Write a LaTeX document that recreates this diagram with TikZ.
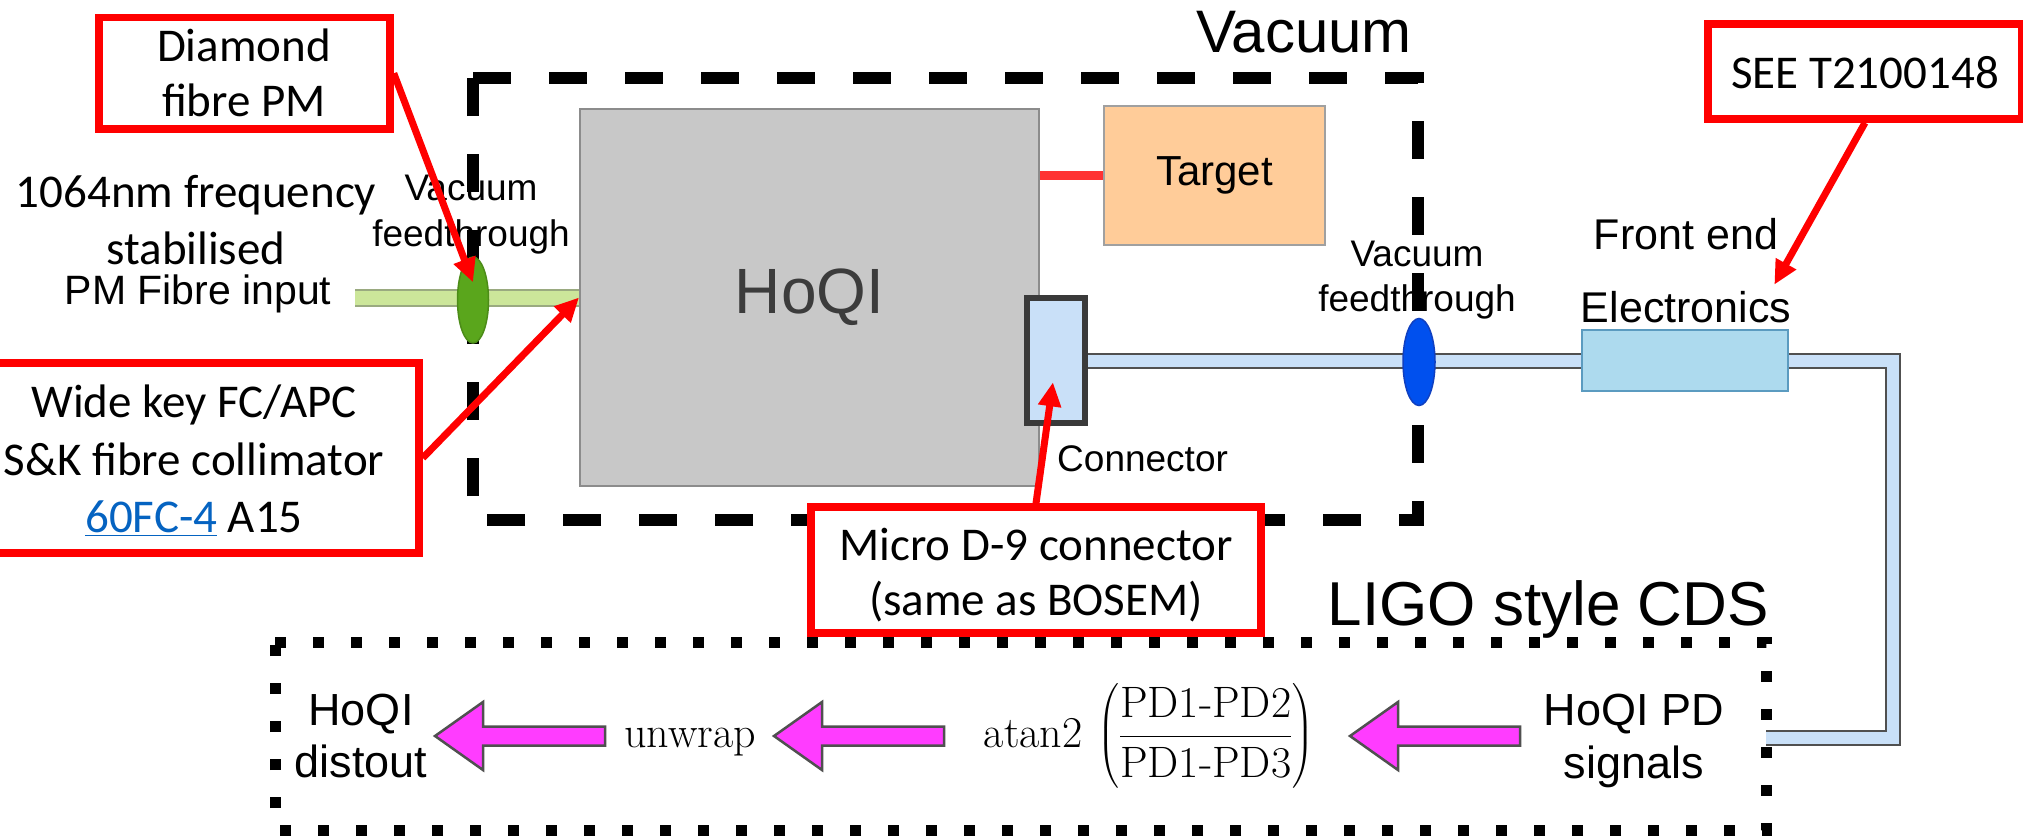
\RequirePackage{fix-cm}
\documentclass[tikz,border=0pt]{standalone}
\usepackage{amsmath}
\usepackage{fontspec}
\usetikzlibrary{arrows.meta,shapes.geometric}
\newfontfamily\calib{Carlito}
\newfontfamily\ari{Liberation Sans}
\newcommand\fsz[1]{\fontsize{#1pt}{#1pt}\selectfont}
\definecolor{annred}{HTML}{FF0000}
\definecolor{hoqigrey}{HTML}{C8C8C8}
\definecolor{hoqiedge}{HTML}{8C8C8C}
\definecolor{hoqitext}{HTML}{3C3C3C}
\definecolor{targetfill}{HTML}{FFCC99}
\definecolor{targetedge}{HTML}{A0A0A0}
\definecolor{linkred}{HTML}{FF3333}
\definecolor{cableblue}{HTML}{C9E0F8}
\definecolor{cableedge}{HTML}{505050}
\definecolor{connedge}{HTML}{3A3A3A}
\definecolor{elecfill}{HTML}{ADDAEE}
\definecolor{elecedge}{HTML}{5B9BC0}
\definecolor{greenft}{HTML}{5AA61C}
\definecolor{greenedge}{HTML}{4C8C18}
\definecolor{fibregreen}{HTML}{CCE69A}
\definecolor{fibreedge}{HTML}{9AAA80}
\definecolor{blueft}{HTML}{0050EE}
\definecolor{blueedge}{HTML}{1040C0}
\definecolor{magentafill}{HTML}{FF3CFF}
\definecolor{arrowedge}{HTML}{505050}
\definecolor{linkblue}{HTML}{0563C1}
\pgfdeclarelayer{bg}
\pgfdeclarelayer{fg}
\pgfsetlayers{bg,main,fg}
\begin{document}
\begin{tikzpicture}[x=1pt,y=-1pt,
  annot/.style={draw=annred, line width=7.5pt, fill=white, inner sep=0pt, rectangle},
  ctxt/.style={font=\calib\fsz{47}, anchor=base, inner sep=0pt},
  lbl/.style={font=\ari\fsz{#1}, anchor=base, inner sep=0pt},
  redarrow/.style={draw=annred, line width=7pt, -{Triangle[length=24pt,width=22pt]}},
  vacbox/.style={draw=black, line width=12.5pt, dash pattern=on 38pt off 38pt},
  cdsbox/.style={draw=black, line width=11pt, dash pattern=on 11pt off 27pt},
  cable/.style={draw=cableblue, line width=12pt, line join=miter, preaction={draw=cableedge, line width=16pt, line join=miter}},
  fibre/.style={draw=fibregreen, line width=14pt, preaction={draw=fibreedge, line width=18pt}},
  feedthru/.style={ellipse, line width=1.5pt, inner sep=0pt},
  blockarr/.pic={\draw[draw=arrowedge, fill=magentafill, line width=2.5pt, line join=miter]
     (0,0) -- (48,-34) -- (48,-9.5) -- (170,-9.5) -- (170,9.5) -- (48,9.5) -- (48,34) -- cycle;}
]
\useasboundingbox (0,0) rectangle (2023,838);

% main components
\node[draw=hoqiedge, fill=hoqigrey, line width=2pt, minimum width=459pt, minimum height=377pt,
      inner sep=0pt, font=\ari\fsz{64}, text=hoqitext] (hoqi) at (809.5,297.5) {HoQI};
\node[draw=targetedge, fill=targetfill, line width=2pt, minimum width=221pt, minimum height=139pt,
      inner sep=0pt, font=\ari\fsz{42}] (target) at (1214.5,175.5) {Target};
\node[draw=connedge, fill=cableblue, line width=6pt, minimum width=58pt, minimum height=125pt,
      inner sep=0pt] (conn) at (1056,360.5) {};
\node[draw=elecedge, fill=elecfill, line width=2pt, minimum width=206pt, minimum height=61pt,
      inner sep=0pt] (elec) at (1685,360.5) {};
\node[feedthru, draw=greenedge, fill=greenft, minimum width=31pt, minimum height=86pt] (gft) at (473,300) {};
\node[feedthru, draw=blueedge, fill=blueft, minimum width=32pt, minimum height=87pt] (bft) at (1419,362) {};
\coordinate (fibin) at (355,298);
\coordinate (cdsin) at (1766,738);

% labels
\node[lbl=60, anchor=base east] (tvacuum) at (1412,52) {Vacuum};
\node[ctxt] (t1064) at (196,207) {1064nm frequency};
\node[ctxt] (tstab) at (196,264) {stabilised};
\node[lbl=41] (tpm) at (198,304) {PM Fibre input};
\node[lbl=37] (tvla) at (471,200) {Vacuum};
\node[lbl=37] (tvlb) at (471,246) {feedthrough};
\node[lbl=37] (tvra) at (1417,266) {Vacuum};
\node[lbl=37] (tvrb) at (1417,311) {feedthrough};
\node[lbl=37, anchor=base west] (tconn) at (1057,471) {Connector};
\node[lbl=43] (tfront) at (1686,249) {Front end};
\node[lbl=43] (telec) at (1686,322) {Electronics};
\node[lbl=62, anchor=base east] (tcds) at (1769,625) {LIGO style CDS};
\node[lbl=45] (tpda) at (1634,725) {HoQI PD};
\node[lbl=45] (tpdb) at (1634,778) {signals};
\node[lbl=45] (touta) at (361,725) {HoQI};
\node[lbl=45] (toutb) at (361,777) {distout};
\node[anchor=base, inner sep=0pt, font=\fsz{44}] (tunwrap) at (690,747) {unwrap};
\node[anchor=base, inner sep=0pt, font=\fsz{44}] (tatan) at (1149,747)
  {$\mathrm{atan2}\,\left(\dfrac{\mbox{PD1-PD2}}{\mbox{PD1-PD3}}\right)$};

% block arrows in CDS
\pic (ba1) at (1350,736) {blockarr};
\pic (ba2) at (774,736) {blockarr};
\pic (ba3) at (435,736) {blockarr};

\begin{pgfonlayer}{bg}
  \draw[vacbox] (473,78) -- (1418,78) -- (1418,520) -- (473,520) -- cycle;
  \draw[cdsbox] (275,642) -- (1766,642) -- (1766,830) -- (275,830) -- cycle;
  \draw[cable] (conn.east) -- (elec.west);
  \draw[cable] (elec.east) -- ++(104,0) |- (cdsin);
  \draw[fibre] (fibin) -- (fibin -| hoqi.west);
  \draw[draw=linkred, line width=9pt] (hoqi.east |- target.west) -- (target.west);
\end{pgfonlayer}

\begin{pgfonlayer}{fg}
  \node[annot, minimum width=291pt, minimum height=111.5pt] (dia) at (244.5,73.3) {};
  \node[ctxt] (tdia1) at (244,61) {Diamond};
  \node[ctxt] (tdia2) at (244,116) {fibre PM};
  \node[annot, minimum width=450pt, minimum height=190pt] (wide) at (194,458) {};
  \node[ctxt] (twk1) at (194,417) {Wide key FC/APC};
  \node[ctxt] (twk2) at (194,475) {S\&K fibre collimator};
  \node[ctxt] (twk3) at (194,532) {{\color{linkblue}\underline{60FC-4}} A15};
  \node[annot, minimum width=450pt, minimum height=126pt] (mic) at (1036,570) {};
  \node[ctxt] (tmic1) at (1036,560) {Micro D-9 connector};
  \node[ctxt] (tmic2) at (1036,615) {(same as BOSEM)};
  \node[annot, minimum width=314pt, minimum height=95pt] (see) at (1865,71.5) {};
  \node[ctxt] (tsee) at (1865,88) {SEE T2100148};
  \draw[redarrow] (dia.east) -- ([yshift=-26pt]gft.north);
  \draw[redarrow] (wide.east) -- (hoqi.west);
  \draw[redarrow, shorten >=22pt] (mic.north) -- (conn.center);
  \draw[redarrow] (see.south) -- ([shift={(-17pt,6pt)}]telec.north east);
\end{pgfonlayer}
\end{tikzpicture}
\end{document}
